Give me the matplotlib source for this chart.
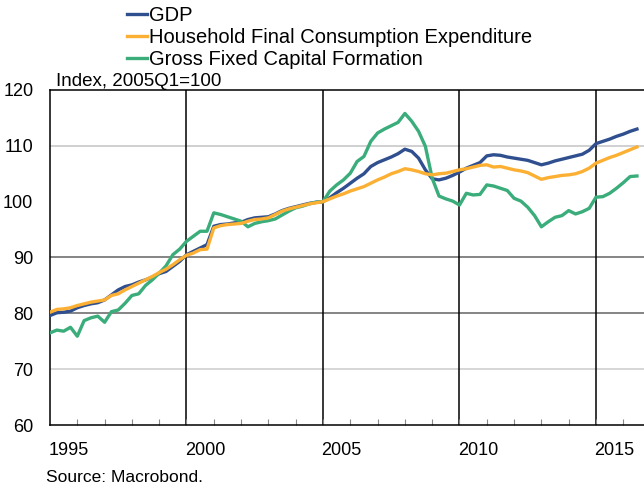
import numpy as np
import matplotlib
matplotlib.use("Agg")
import matplotlib.pyplot as plt

plt.rcParams['font.family'] = ['Liberation Sans', 'DejaVu Sans']

# quarterly index values, 1995Q1 .. 2016Q3 (2005Q1 = 100)
start_year = 1995
gdp = [79.6, 80.1, 80.2, 80.4, 81.0, 81.4, 81.7, 81.9, 82.4, 83.3, 84.2, 84.8, 85.1, 85.6, 86.0, 86.5, 87.1, 87.5, 88.4, 89.3,
       90.5, 91.1, 91.7, 92.3, 95.6, 95.9, 96.0, 96.2, 96.3, 96.8, 97.1, 97.2, 97.3, 97.8, 98.4, 98.8, 99.1, 99.4, 99.7, 99.9,
       100.0, 100.7, 101.6, 102.4, 103.3, 104.2, 105.0, 106.3, 107.0, 107.5, 108.0, 108.6, 109.4, 109.0, 107.8, 105.7, 104.1, 103.9, 104.2, 104.7,
       105.3, 106.0, 106.5, 107.0, 108.2, 108.4, 108.3, 108.0, 107.8, 107.6, 107.4, 107.0, 106.6, 106.9, 107.3, 107.6, 107.9, 108.2, 108.5, 109.2,
       110.4, 110.8, 111.2, 111.7, 112.1, 112.6, 113.0]
hfce = [80.2, 80.7, 80.8, 81.0, 81.4, 81.7, 82.0, 82.2, 82.4, 83.2, 83.5, 84.2, 84.8, 85.4, 86.0, 86.6, 87.3, 87.9, 88.7, 89.6,
        90.4, 90.8, 91.4, 91.5, 95.3, 95.7, 95.9, 96.0, 96.1, 96.5, 96.8, 96.9, 97.1, 97.7, 98.3, 98.7, 99.0, 99.3, 99.6, 99.8,
        100.0, 100.5, 101.0, 101.4, 101.9, 102.3, 102.7, 103.3, 103.9, 104.4, 105.0, 105.4, 105.9, 105.7, 105.4, 105.0, 104.8, 105.0, 105.1, 105.4,
        105.7, 105.9, 106.2, 106.5, 106.6, 106.2, 106.3, 106.0, 105.7, 105.5, 105.2, 104.6, 104.0, 104.3, 104.5, 104.7, 104.8, 105.0, 105.4, 106.0,
        106.9, 107.4, 107.9, 108.3, 108.8, 109.3, 109.8]
gfcf = [76.5, 77.0, 76.8, 77.5, 75.9, 78.7, 79.2, 79.5, 78.4, 80.3, 80.6, 81.8, 83.2, 83.5, 85.0, 86.0, 87.2, 88.5, 90.5, 91.5,
        92.9, 93.8, 94.7, 94.7, 98.0, 97.7, 97.3, 96.9, 96.5, 95.5, 96.1, 96.4, 96.6, 96.9, 97.6, 98.3, 98.9, 99.2, 99.6, 99.9,
        100.0, 101.9, 103.0, 103.9, 105.1, 107.2, 108.1, 110.8, 112.3, 113.0, 113.6, 114.2, 115.8, 114.4, 112.6, 109.9, 104.2, 101.0, 100.5, 100.1,
        99.4, 101.5, 101.2, 101.3, 103.0, 102.8, 102.4, 102.0, 100.6, 100.1, 99.0, 97.5, 95.5, 96.4, 97.2, 97.5, 98.4, 97.8, 98.2, 98.8,
        100.8, 100.9, 101.5, 102.4, 103.4, 104.5, 104.6]
labels = ['GDP', 'Household Final Consumption Expenditure', 'Gross Fixed Capital Formation']
colors = ['#2f4f8f', '#fbb034', '#3aad7b']
label_years = [1995, 2000, 2005, 2010, 2015]
y_ticks = [60, 70, 80, 90, 100, 110, 120]

fs = 13
t = start_year + np.arange(len(gdp)) / 4.0

fig = plt.figure(figsize=(6.44, 4.86), dpi=100)
ax = fig.add_axes([50/644, 61/486, 594/644, 335/486])

# horizontal grid (shades as in the original)
for v, c in [(70, '#d0d0d0'), (80, '#707070'), (90, '#707070'), (110, '#c8c8c8')]:
    ax.axhline(v, color=c, lw=1.2, zorder=1)
for yr in label_years[1:]:
    ax.axvline(yr, color='black', lw=1.1, zorder=1)

lines = []
for s, c, lab in zip([gdp, hfce, gfcf], colors, labels):
    l, = ax.plot(t, s, color=c, lw=2.4, label=lab, zorder=3, solid_joinstyle='round')
    lines.append(l)
lines[1].set_zorder(3.5)

ax.set_xlim(1995, 1995 + 594/27.3)
ax.set_ylim(60, 120)
ax.set_yticks(y_ticks)
ax.tick_params(axis='y', length=0, pad=12, labelsize=fs)

# year labels sit just right of each year boundary
ax.set_xticks([y + 0.68 for y in label_years])
ax.set_xticklabels([str(y) for y in label_years])
ax.set_xticks(np.arange(1996, 2017), minor=True)
ax.tick_params(axis='x', which='major', length=0, pad=12, labelsize=fs)
ax.tick_params(axis='x', which='minor', direction='in', length=4, color='#888888', width=0.8)

for side in ['left', 'top', 'bottom']:
    ax.spines[side].set_color('black')
    ax.spines[side].set_linewidth(1.1)
ax.spines['right'].set_visible(False)

fig.text(56/644, (486 - 86)/486, 'Index, 2005Q1=100', fontsize=13.5, va='baseline')
fig.text(46/644, 4/486, 'Source: Macrobond.', fontsize=12.5, va='baseline')

fig.legend(handles=lines, loc='upper left', bbox_to_anchor=(127/644, 1.0 - 6/486),
           frameon=False, handlelength=1.0, handletextpad=0.1, labelspacing=0.15,
           fontsize=14.5, borderaxespad=0, borderpad=0)

fig.savefig('out.png', dpi=100)
